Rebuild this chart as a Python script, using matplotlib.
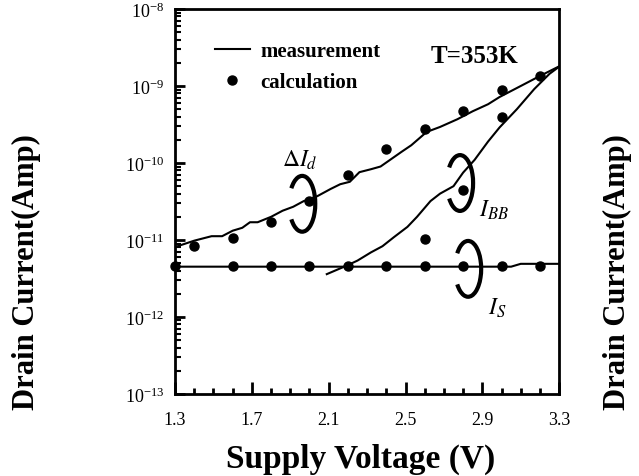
import matplotlib
matplotlib.use('Agg')
import matplotlib.pyplot as plt
from matplotlib.patches import Arc
from matplotlib.lines import Line2D
from matplotlib.ticker import FixedLocator, LogLocator, NullFormatter

plt.rcParams['font.family'] = 'Liberation Serif'
plt.rcParams['mathtext.fontset'] = 'stix'

# ---- measured curves ----
did_v = [1.30, 1.40, 1.49, 1.545, 1.60, 1.65, 1.69, 1.73, 1.80, 1.86, 1.915, 1.97,
         2.04, 2.11, 2.16, 2.21, 2.26, 2.32, 2.37, 2.42, 2.48, 2.53, 2.61, 2.68,
         2.77, 2.85, 2.93, 2.99, 3.10, 3.20, 3.30]
did_i = [8.1e-12, 9.8e-12, 1.12e-11, 1.12e-11, 1.32e-11, 1.44e-11, 1.7e-11, 1.7e-11,
         2.0e-11, 2.4e-11, 2.7e-11, 3.2e-11, 3.7e-11, 4.6e-11, 5.3e-11, 5.7e-11,
         7.6e-11, 8.3e-11, 9.0e-11, 1.1e-10, 1.4e-10, 1.7e-10, 2.53e-10, 2.94e-10,
         3.7e-10, 4.7e-10, 5.8e-10, 7.2e-10, 1.0e-9, 1.35e-9, 1.8e-9]

ibb_v = [2.09, 2.19, 2.25, 2.32, 2.38, 2.44, 2.51, 2.56, 2.63, 2.68, 2.75, 2.80,
         2.86, 2.93, 2.99, 3.08, 3.17, 3.25, 3.30]
ibb_i = [3.6e-12, 4.6e-12, 5.4e-12, 6.9e-12, 8.3e-12, 1.09e-11, 1.48e-11, 2.0e-11,
         3.2e-11, 4.0e-11, 5.0e-11, 7.5e-11, 1.1e-10, 1.9e-10, 2.9e-10, 5.0e-10,
         9.1e-10, 1.44e-9, 1.78e-9]

is_v = [1.30, 3.05, 3.10, 3.30]
is_i = [4.5e-12, 4.5e-12, 4.9e-12, 4.9e-12]

# ---- calculated points ----
did_calc_v = [1.4, 1.6, 1.8, 2.0, 2.2, 2.4, 2.6, 2.8, 3.0, 3.2]
did_calc_i = [8.3e-12, 1.07e-11, 1.7e-11, 3.2e-11, 6.9e-11, 1.5e-10, 2.75e-10,
              4.8e-10, 8.9e-10, 1.35e-9]

ibb_calc_v = [2.6, 2.8, 3.0]
ibb_calc_i = [1.02e-11, 4.5e-11, 4.0e-10]

is_calc_v = [1.3, 1.6, 1.8, 2.0, 2.2, 2.4, 2.6, 2.8, 3.0, 3.2]
is_calc_i = [4.6e-12] * 10

xticks = [1.3, 1.7, 2.1, 2.5, 2.9, 3.3]
yticks = [1e-13, 1e-12, 1e-11, 1e-10, 1e-9, 1e-8]
ytick_labels = [r'$\mathregular{10^{%d}}$' % e for e in range(-13, -7)]

fig = plt.figure(figsize=(6.39, 4.77), dpi=100)
ax = fig.add_axes([0.274, 0.172, 0.601, 0.807])

lw = 1.5
ax.plot(did_v, did_i, color='black', lw=lw)
ax.plot(ibb_v, ibb_i, color='black', lw=lw)
ax.plot(is_v, is_i, color='black', lw=lw)

ms = 6.5
for vv, ii in [(did_calc_v, did_calc_i), (ibb_calc_v, ibb_calc_i), (is_calc_v, is_calc_i)]:
    ax.plot(vv, ii, 'o', color='black', ms=ms, clip_on=False)

ax.set_yscale('log')
ax.set_xlim(1.3, 3.3)
ax.set_ylim(1e-13, 1e-8)

ax.xaxis.set_major_locator(FixedLocator(xticks))
ax.xaxis.set_minor_locator(FixedLocator([1.3 + 0.1 * k for k in range(21)]))
ax.set_xticklabels(['%.1f' % x for x in xticks])
ax.yaxis.set_major_locator(FixedLocator(yticks))
ax.yaxis.set_minor_locator(LogLocator(base=10, subs=range(2, 10)))
ax.yaxis.set_minor_formatter(NullFormatter())
ax.set_yticklabels(ytick_labels)

ax.tick_params(which='both', direction='in', top=False, right=False)
ax.tick_params(axis='x', which='major', length=9, width=2, labelsize=13, pad=12)
ax.tick_params(axis='x', which='minor', length=4, width=2)
ax.tick_params(axis='y', which='major', length=7, width=2, labelsize=13, pad=8)
ax.tick_params(axis='y', which='minor', length=4, width=1.5)
for s in ax.spines.values():
    s.set_linewidth(2)

fig.text(361 / 639, 1 - 459 / 477, 'Supply Voltage (V)', fontsize=24,
         fontweight='bold', ha='center', va='center')
fig.text(0.042, 0.43, 'Drain Current(Amp)', rotation=90, fontsize=22,
         fontweight='bold', ha='center', va='center')
fig.text(0.966, 0.43, 'Drain Current(Amp)', rotation=90, fontsize=22,
         fontweight='bold', ha='center', va='center')

# legend
handles = [Line2D([], [], color='black', lw=lw),
           Line2D([], [], ls='none', marker='o', color='black', ms=ms)]
ax.legend(handles, ['measurement', 'calculation'], loc='upper left',
          bbox_to_anchor=(0.054, 0.966), frameon=False, handlelength=1.7,
          handletextpad=0.5, labelspacing=0.55,
          prop={'family': 'Liberation Serif', 'weight': 'bold', 'size': 15})

ax.text(0.78, 0.88, 'T=353K', transform=ax.transAxes, fontsize=18,
        fontweight='bold', ha='center', va='center')

# annotation arcs and labels
for cx, cy in [(0.331, 0.494), (0.742, 0.548), (0.763, 0.325)]:
    ax.add_patch(Arc((cx, cy), 0.068, 0.145, theta1=-125, theta2=125,
                     transform=ax.transAxes, color='black', lw=3))
ax.text(0.326, 0.61, r'$\Delta I_d$', transform=ax.transAxes, fontsize=17,
        ha='center', va='center')
ax.text(0.83, 0.48, r'$I_{BB}$', transform=ax.transAxes, fontsize=17,
        ha='center', va='center')
ax.text(0.84, 0.225, r'$I_S$', transform=ax.transAxes, fontsize=17,
        ha='center', va='center')

fig.savefig('out.png', dpi=100)
